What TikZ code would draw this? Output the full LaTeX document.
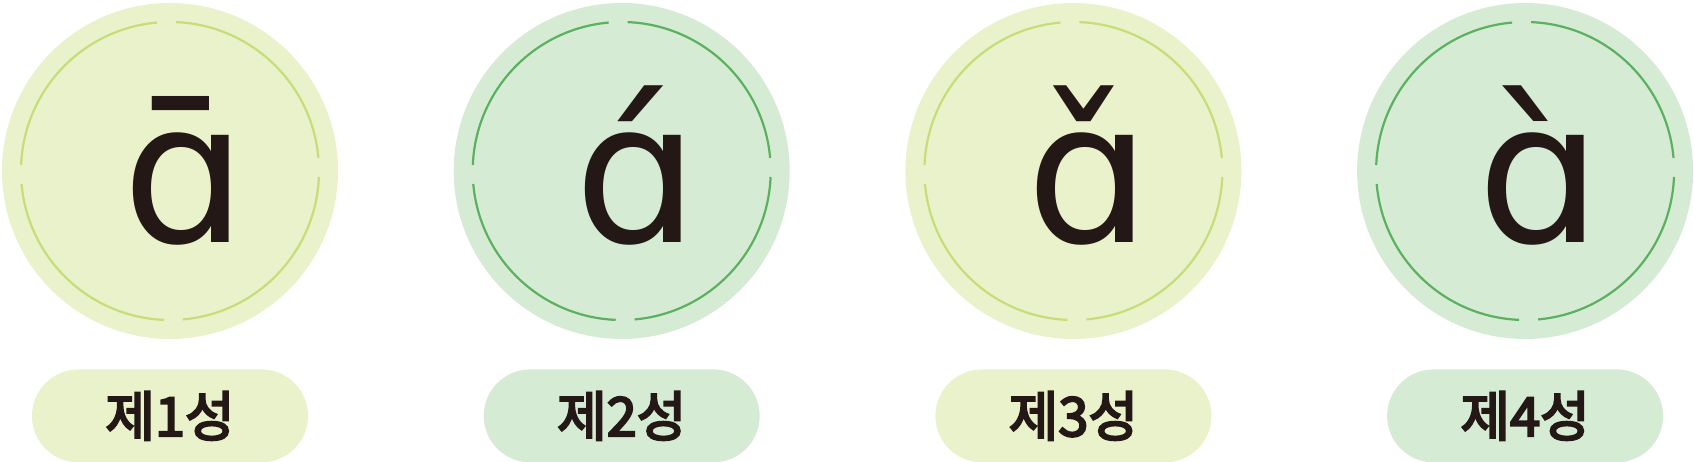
\documentclass[tikz,border=0pt]{standalone}
\usepackage{fontspec}
\usepackage{xcolor}
\usetikzlibrary{positioning}
\newfontfamily\pyfont{DejaVu Sans}
\newfontfamily\krfont{Noto Sans CJK KR}[FakeBold=4]
\definecolor{yellowbg}{HTML}{EAF2CB}
\definecolor{greenbg}{HTML}{D6EBD3}
\definecolor{yellowln}{HTML}{C6DD78}
\definecolor{greenln}{HTML}{5BB160}
\definecolor{ink}{HTML}{231815}

\begin{document}
\begin{tikzpicture}[x=1pt,y=1pt,node distance=30pt]
    \tikzstyle{disc}=[circle,minimum size=336pt,inner sep=0pt]
    \tikzstyle{tone}=[font=\pyfont\fontsize{196}{200}\selectfont,text=ink,inner sep=0pt,anchor=base]
    \tikzstyle{pill}=[rounded corners=46.5pt,minimum height=93pt,minimum width=276pt,inner sep=0pt,font=\krfont\fontsize{54}{56}\selectfont,text=ink]

    \useasboundingbox (0,0) rectangle (1694,462);

    \foreach \x/\bg/\ln/\py/\kr in {1/yellowbg/yellowln/ɑ̄/제1성, 2/greenbg/greenln/ɑ́/제2성, 3/yellowbg/yellowln/ɑ̌/제3성, 4/greenbg/greenln/ɑ̀/제4성}{
        \pgfmathsetmacro\cx{170+451.7*(\x-1)}
        \node[disc,fill=\bg] (C-\x) at (\cx,291) {};
        \foreach \a in {0,90,180,270}
            \draw[\ln,line width=2.2pt] (C-\x.center) ++(\a+5:149) arc[start angle=\a+5,end angle=\a+87.7,radius=149];
        \node[tone] (T-\x) at ([xshift=15pt,yshift=-72pt]C-\x.center) {\py};
        \node[pill,fill=\bg,below=of C-\x] (L-\x) {\kr};
        }

\end{tikzpicture}
\end{document}
